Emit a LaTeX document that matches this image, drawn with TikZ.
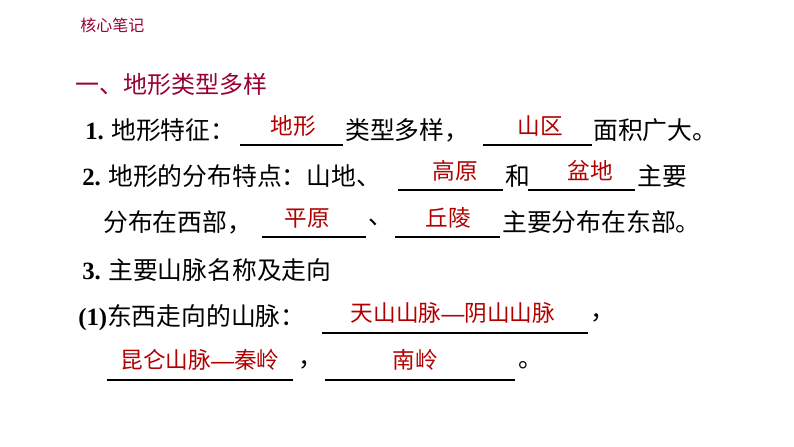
\documentclass[tikz,border=0pt]{standalone}
\usepackage{fontspec}
\setmainfont{Liberation Serif}
\newfontfamily\cjk{Noto Sans CJK SC}
\newcommand{\nm}[1]{{\rmfamily\bfseries #1}}
\begin{document}
\begin{tikzpicture}[x=0.75pt,y=-0.75pt,
  t/.style={anchor=west,inner sep=0,font=\fontsize{18.6}{20}\selectfont\cjk},
  ttl/.style={anchor=west,inner sep=0,text=purple!80!black,font=\fontsize{18}{20}\selectfont\cjk},
  ans/.style={inner sep=0,text=red!70!black,font=\fontsize{17}{20}\selectfont\cjk},
  ul/.style={line width=0.9pt}]
\useasboundingbox (0,0) rectangle (794,447);
\node[anchor=west,inner sep=0,text=purple!80!black,font=\fontsize{12}{14}\selectfont\cjk] (h) at (80,25) {核心笔记};
\node[ttl] (tt) at (75,84) {一、地形类型多样};
\node[t] (a1) at (85,130) {\nm{1.} 地形特征：};
\draw[ul] (240,145) coordinate (b1s) -- (343,145) coordinate (b1e);
\node[ans] (f1) at (293,126) {地形};
\node[t] (a2) at (345,130) {类型多样，};
\draw[ul] (483,145) coordinate (b2s) -- (592,145) coordinate (b2e);
\node[ans] (f2) at (540,126) {山区};
\node[t] (a3) at (593,130) {面积广大。};
\node[t] (c1) at (82,176) {\nm{2.} 地形的分布特点：山地、};
\draw[ul] (398,190) coordinate (b3s) -- (503,190) coordinate (b3e);
\node[ans] (f3) at (455,171) {高原};
\node[t] (c2) at (505,176) {和};
\draw[ul] (528,190) coordinate (b4s) -- (635,190) coordinate (b4e);
\node[ans] (f4) at (590,171) {盆地};
\node[t] (c3) at (637,176) {主要};
\node[t] (d1) at (103,222) {分布在西部，};
\draw[ul] (262,237) coordinate (b5s) -- (366,237) coordinate (b5e);
\node[ans] (f5) at (307,218) {平原};
\node[t] (d2) at (368,222) {、};
\draw[ul] (395,237) coordinate (b6s) -- (500,237) coordinate (b6e);
\node[ans] (f6) at (448,218) {丘陵};
\node[t] (d3) at (502,222) {主要分布在东部。};
\node[t] (e1) at (82,270) {\nm{3.} 主要山脉名称及走向};
\node[t] (g1) at (78,318) {\nm{(1)}东西走向的山脉：};
\draw[ul] (322,333) coordinate (b7s) -- (588,333) coordinate (b7e);
\node[ans] (f7) at (453,313) {天山山脉\rmfamily\textbf{—}\cjk 阴山山脉};
\node[t] (g2) at (590,318) {，};
\draw[ul] (107,380) coordinate (b8s) -- (293,380) coordinate (b8e);
\node[ans] (f8) at (200,360) {昆仑山脉\rmfamily\textbf{—}\cjk 秦岭};
\node[t] (h1) at (298,365) {，};
\draw[ul] (325,380) coordinate (b9s) -- (515,380) coordinate (b9e);
\node[ans] (f9) at (415,360) {南岭};
\node[t] (h2) at (518,365) {。};
\end{tikzpicture}
\end{document}
